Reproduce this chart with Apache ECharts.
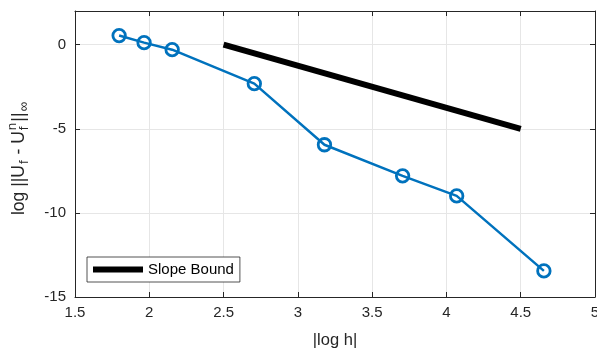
<!DOCTYPE html>
<html>
<head>
<meta charset="utf-8">
<script src="https://cdn.jsdelivr.net/npm/echarts@6/dist/echarts.min.js"></script>
<style>
  html, body { margin: 0; padding: 0; background: #fff; }
  #chart { width: 597px; height: 351px; }
</style>
</head>
<body>
<div id="chart"></div>
<script>
// |log h| vs log error
const logH = [1.797, 1.965, 2.154, 2.707, 3.179, 3.705, 4.069, 4.656];
const logErr = [0.54, 0.12, -0.30, -2.32, -5.95, -7.80, -8.99, -13.45];
const slopeX = [2.5, 4.5];
const slopeY = [0, -5];

const axisColor = "#262626";
const gridColor = "#e6e6e6";
const blue = "#0072BD";
const font = "Liberation Sans, Arial, sans-serif";

const chart = echarts.init(document.getElementById("chart"));

// y label with stacked super/subscript, drawn as rotated text pieces
const ctx = document.createElement("canvas").getContext("2d");
function w(t, size) {
  ctx.font = size + "px " + font;
  return ctx.measureText(t).width;
}
const big = 17.5, small = 13.5;
const pieces = [
  { t: "log ||U", s: big, dy: 0 },
  { t: "f", s: small, dy: 5 },
  { t: " - U", s: big, dy: 0 },
  { t: "n", s: small, dy: -6.5, stackWith: "f" },
  { t: "||", s: big, dy: 0 },
  { t: "\u221e", s: small, dy: 5 },
];
let cursor = 0;
const children = [];
for (const p of pieces) {
  children.push({
    type: "text", x: cursor, y: p.dy,
    style: { text: p.t, font: p.s + "px " + font, fill: axisColor, textVerticalAlign: "middle" },
  });
  let adv = w(p.t, p.s);
  if (p.stackWith) {
    children.push({
      type: "text", x: cursor, y: 5,
      style: { text: p.stackWith, font: small + "px " + font, fill: axisColor, textVerticalAlign: "middle" },
    });
    adv = Math.max(adv, w(p.stackWith, small));
  }
  cursor += adv + 1;
}
for (const c of children) c.x -= cursor / 2;

chart.setOption({
  animation: false,
  backgroundColor: "#fff",
  grid: { left: 75, right: 2, top: 11, bottom: 54, outerBoundsMode: "none" },
  legend: {
    data: ["Slope Bound"],
    left: 87, top: 257,
    padding: [5, 6, 5, 6],
    itemWidth: 50, itemHeight: 6,
    icon: "rect",
    borderColor: axisColor, borderWidth: 0.8, backgroundColor: "#fff",
    textStyle: { fontFamily: font, fontSize: 15, color: "#000" },
  },
  xAxis: [
    {
      type: "value", min: 1.5, max: 5, interval: 0.5,
      name: "|log h|", nameLocation: "middle", nameGap: 35,
      nameTextStyle: { fontFamily: font, fontSize: 16.5, color: axisColor },
      axisLine: { onZero: false, lineStyle: { color: axisColor } },
      axisTick: { inside: true, length: 5, lineStyle: { color: axisColor } },
      axisLabel: { fontFamily: font, fontSize: 15, color: axisColor, margin: 8 },
      splitLine: { lineStyle: { color: gridColor } },
    },
    {
      type: "value", position: "top", min: 1.5, max: 5, interval: 0.5,
      axisLine: { onZero: false, lineStyle: { color: axisColor } },
      axisTick: { inside: true, length: 5, lineStyle: { color: axisColor } },
      axisLabel: { show: false }, splitLine: { show: false },
    },
  ],
  yAxis: [
    {
      type: "value", min: -15, max: 2, interval: 5,
      axisLine: { show: true, onZero: false, lineStyle: { color: axisColor } },
      axisTick: { show: true, inside: true, length: 5, lineStyle: { color: axisColor } },
      axisLabel: {
        fontFamily: font, fontSize: 15, color: axisColor, margin: 9,
        formatter: (v) => (v % 5 === 0 ? String(v) : ""),
      },
      splitLine: { lineStyle: { color: gridColor } },
    },
    {
      type: "value", position: "right", min: -15, max: 2, interval: 5,
      axisLine: { show: true, onZero: false, lineStyle: { color: axisColor } },
      axisTick: { show: true, inside: true, length: 5, lineStyle: { color: axisColor } },
      axisLabel: { show: false }, splitLine: { show: false },
    },
  ],
  graphic: [
    { type: "group", x: 19, y: 158, rotation: Math.PI / 2, children },
  ],
  series: [
    {
      name: "Error",
      type: "line",
      data: logH.map((x, i) => [x, logErr[i]]),
      symbol: "circle", symbolSize: 12.5,
      lineStyle: { color: blue, width: 2.5 },
      itemStyle: { color: "rgba(0,0,0,0)", borderColor: blue, borderWidth: 2.8 },
      z: 3,
    },
    {
      name: "Slope Bound",
      type: "line",
      data: slopeX.map((x, i) => [x, slopeY[i]]),
      showSymbol: false, symbol: "none",
      lineStyle: { color: "#000", width: 6, cap: "butt" },
      itemStyle: { color: "#000" },
      z: 2,
    },
  ],
});
</script>
</body>
</html>
